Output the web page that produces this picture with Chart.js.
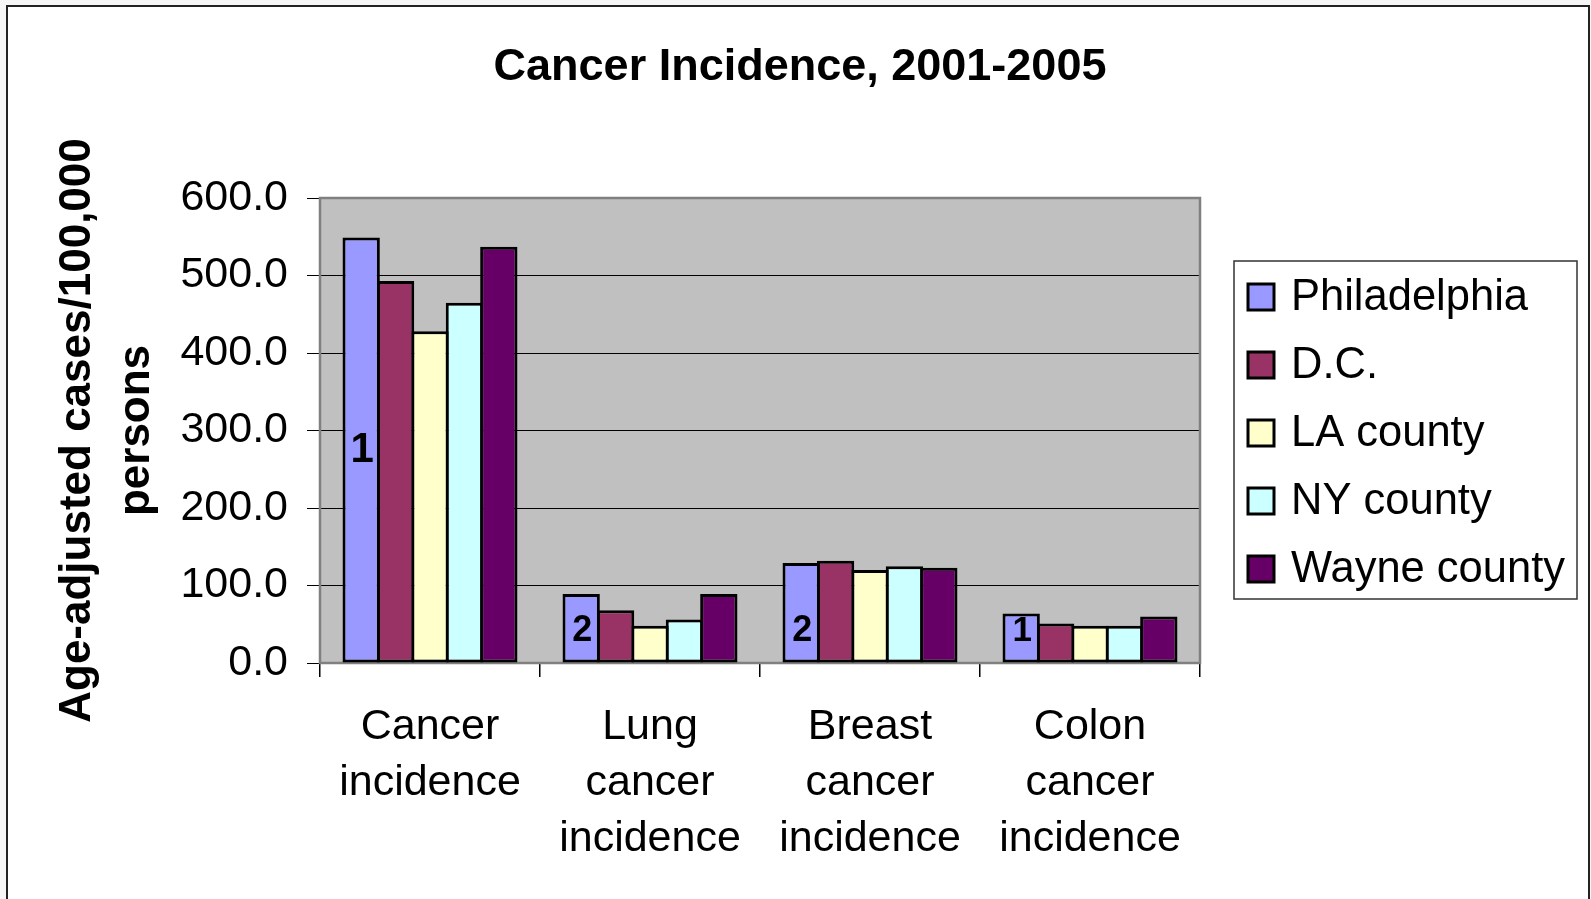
<!DOCTYPE html>
<html>
<head>
<meta charset="utf-8">
<title>Cancer Incidence, 2001-2005</title>
<script src="https://cdn.jsdelivr.net/npm/chart.js@4.4.1/dist/chart.umd.min.js"></script>
<style>
  html, body { margin: 0; padding: 0; background: #f6f6f6; }
  #wrap { width: 1591px; height: 899px; }
</style>
</head>
<body>
<div id="wrap"><canvas id="chart" width="1591" height="899"></canvas></div>
<script>
// ---- Data ----
const chartTitle = 'Cancer Incidence, 2001-2005';
const yAxisTitle = ['Age-adjusted cases/100,000', 'persons'];
const categories = [
  ['Cancer', 'incidence'],
  ['Lung', 'cancer', 'incidence'],
  ['Breast', 'cancer', 'incidence'],
  ['Colon', 'cancer', 'incidence']
];
const seriesNames = ['Philadelphia', 'D.C.', 'LA county', 'NY county', 'Wayne county'];
const philadelphia = [549, 89, 129, 64];
const dc           = [493, 68, 132, 51];
const laCounty     = [428, 48, 120, 48];
const nyCounty     = [465, 56, 125, 48];
const wayneCounty  = [537, 89, 123, 60];
// rank of Philadelphia in each category, printed inside its bar
const philadelphiaRank = ['1', '2', '2', '1'];
const yTickValues = [0, 100, 200, 300, 400, 500, 600];

// ---- Styles ----
const FONT = "'Liberation Sans', Arial, Helvetica, sans-serif";
const seriesColors = ['#9999FF', '#993366', '#FFFFCC', '#CCFFFF', '#660066'];
const rankFontSizes = [42, 36, 36, 35];

Chart.defaults.font.family = FONT;
Chart.defaults.color = '#000';

const seriesValues = [philadelphia, dc, laCounty, nyCounty, wayneCounty];
const datasets = seriesNames.map((name, i) => ({
  label: name,
  data: seriesValues[i],
  backgroundColor: seriesColors[i],
  borderColor: '#000',
  borderWidth: 3,
  borderSkipped: false,
  barPercentage: 1.085,
  categoryPercentage: 0.782
}));

// page frame, title, plot-area fill and border
const framePlugin = {
  id: 'frame',
  beforeDraw(chart) {
    const ctx = chart.ctx;
    const a = chart.chartArea;
    ctx.save();
    ctx.fillStyle = '#f6f6f6';
    ctx.fillRect(0, 0, chart.width, chart.height);
    ctx.fillStyle = '#ffffff';
    ctx.fillRect(7, 6, 1582, chart.height);
    ctx.strokeStyle = '#222';
    ctx.lineWidth = 2;
    ctx.strokeRect(7, 6, 1582, chart.height + 10);
    ctx.fillStyle = '#c0c0c0';
    ctx.fillRect(a.left, a.top, a.right - a.left, a.bottom - a.top);
    ctx.fillStyle = '#000';
    ctx.font = 'bold 45px ' + FONT;
    ctx.textAlign = 'center';
    ctx.textBaseline = 'middle';
    ctx.fillText(chartTitle, 800, 68);
    ctx.restore();
  },
  beforeDatasetsDraw(chart) {
    const ctx = chart.ctx;
    const a = chart.chartArea;
    ctx.save();
    ctx.strokeStyle = '#808080';
    ctx.lineWidth = 2.5;
    ctx.strokeRect(a.left, a.top, a.right - a.left, a.bottom - a.top);
    ctx.restore();
  }
};

// rank numbers inside the Philadelphia bars
const rankPlugin = {
  id: 'rankLabels',
  afterDatasetsDraw(chart) {
    const ctx = chart.ctx;
    const meta = chart.getDatasetMeta(0);
    ctx.save();
    ctx.fillStyle = '#000';
    ctx.textAlign = 'center';
    ctx.textBaseline = 'middle';
    meta.data.forEach((bar, i) => {
      const h = bar.base - bar.y;
      const y = h > 200 ? (bar.y + bar.base) / 2 : bar.base - 31;
      ctx.font = 'bold ' + rankFontSizes[i] + 'px ' + FONT;
      ctx.fillText(philadelphiaRank[i], bar.x + 1, y);
    });
    ctx.restore();
  }
};

// boxed legend to the right of the plot
const legendPlugin = {
  id: 'boxLegend',
  afterDraw(chart) {
    const ctx = chart.ctx;
    const box = { x: 1234, y: 261, w: 343, h: 338 };
    ctx.save();
    ctx.fillStyle = '#fff';
    ctx.fillRect(box.x, box.y, box.w, box.h);
    ctx.strokeStyle = '#333';
    ctx.lineWidth = 1.5;
    ctx.strokeRect(box.x, box.y, box.w, box.h);
    ctx.font = '43.5px ' + FONT;
    ctx.textAlign = 'left';
    ctx.textBaseline = 'middle';
    chart.data.datasets.forEach((ds, i) => {
      const cy = 297 + i * 68;
      ctx.fillStyle = ds.backgroundColor;
      ctx.fillRect(1248, cy - 13, 26, 26);
      ctx.strokeStyle = '#000';
      ctx.lineWidth = 3;
      ctx.strokeRect(1248, cy - 13, 26, 26);
      ctx.fillStyle = '#000';
      ctx.fillText(ds.label, 1291, cy + 1);
    });
    ctx.restore();
  }
};

new Chart(document.getElementById('chart'), {
  type: 'bar',
  data: { labels: categories, datasets },
  plugins: [framePlugin, rankPlugin, legendPlugin],
  options: {
    responsive: false,
    animation: false,
    layout: { padding: { left: 8, right: 391, top: 198, bottom: 0 } },
    plugins: {
      legend: { display: false },
      title: { display: false },
      tooltip: { enabled: false }
    },
    scales: {
      x: {
        grid: {
          offset: true,
          drawOnChartArea: false,
          drawTicks: true,
          tickLength: 14,
          color: '#000',
          lineWidth: 1.5
        },
        border: { display: false },
        ticks: {
          font: { size: 43, lineHeight: 1.3 },
          color: '#000',
          padding: 22,
          maxRotation: 0,
          autoSkip: false
        },
        afterFit(scale) { scale.height = 236; }
      },
      y: {
        min: 0,
        max: 600,
        afterBuildTicks(scale) { scale.ticks = yTickValues.map(v => ({ value: v })); },
        grid: {
          color: '#000',
          lineWidth: 1,
          drawTicks: true,
          tickLength: 13
        },
        border: { display: false },
        ticks: {
          font: { size: 43 },
          color: '#000',
          padding: 19,
          callback: v => Number(v).toFixed(1)
        },
        title: {
          display: true,
          text: yAxisTitle,
          font: { size: 44, weight: 'bold', lineHeight: 1.33 },
          color: '#000',
          padding: { top: 41, bottom: 0 }
        },
        afterFit(scale) { scale.width = 312; }
      }
    }
  }
});
</script>
</body>
</html>
